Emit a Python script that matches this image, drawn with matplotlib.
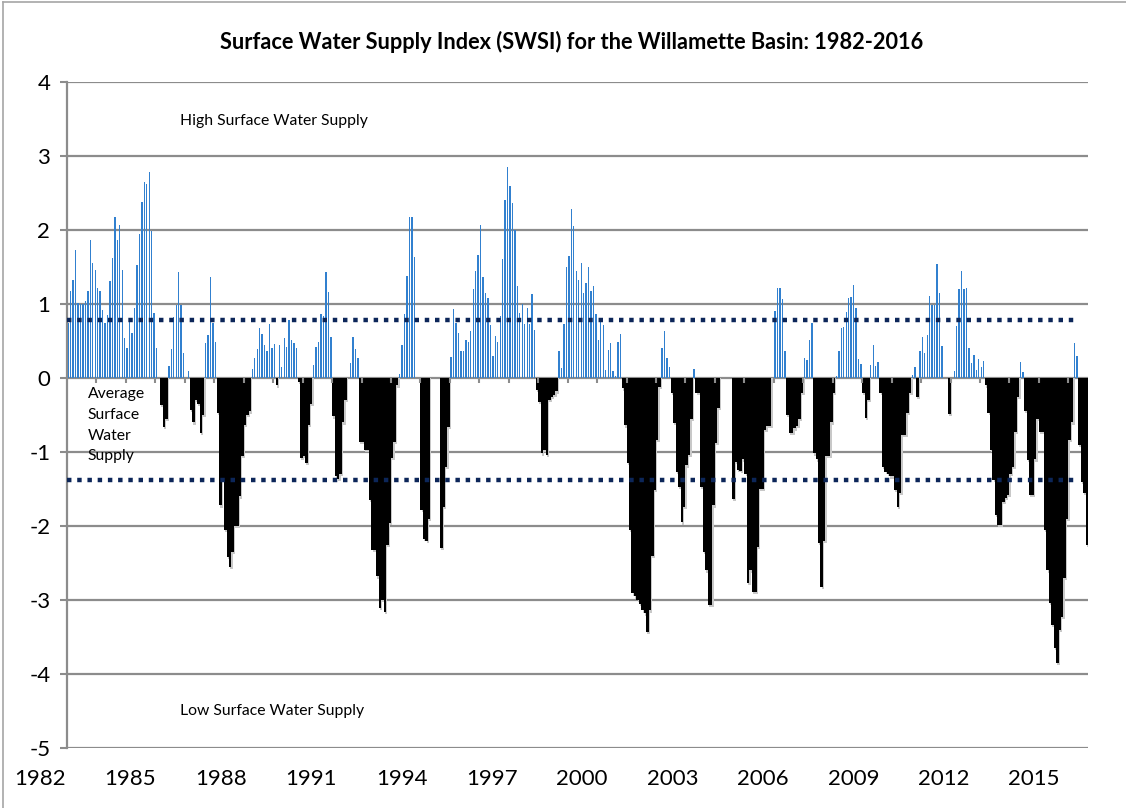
import matplotlib.pyplot as plt
import numpy as np

# monthly SWSI values, Jan 1982 .. mid 2016
swsi_1982_1987 = [
    0.74, 1.18, 1.32, 1.73, 1.01, 1.00, 1.00, 1.04, 1.18, 1.86, 1.55, 1.46,
    1.22, 1.17, 0.92, 0.74, 0.85, 1.31, 1.62, 2.18, 1.86, 2.07, 1.46, 0.54,
    0.41, 0.81, 0.61, 0.95, 1.53, 1.95, 2.38, 2.65, 2.62, 2.78, 1.99, 0.88,
    0.40, 0.00, -0.36, -0.66, -0.55, 0.16, 0.39, 0.83, 0.98, 1.43, 0.98, 0.34,
    0.00, 0.10, -0.43, -0.60, -0.30, -0.35, -0.74, -0.50, 0.47, 0.58, 1.36, 0.75,
    0.48, -0.47, -1.72, -1.38, -2.05, -2.42, -2.55, -2.35, -2.00, -2.00, -1.60, -1.05,
]
swsi_1988_1993 = [
    -0.63, -0.50, -0.45, 0.12, 0.27, 0.39, 0.67, 0.60, 0.44, 0.37, 0.73, 0.41,
    0.46, -0.10, 0.44, 0.15, 0.54, 0.42, 0.78, 0.51, 0.47, 0.41, -0.05, -1.08,
    -1.05, -1.15, -0.63, -0.35, 0.17, 0.42, 0.48, 0.86, 0.84, 1.43, 1.16, 0.56,
    -0.52, -1.33, -1.36, -1.30, -0.60, -0.30, 0.00, 0.20, 0.55, 0.39, 0.27, -0.86,
    -0.86, -0.97, -0.97, -1.65, -2.32, -2.32, -2.68, -3.11, -3.00, -3.16, -2.26, -1.96,
    -1.08, -0.86, -0.10, 0.06, 0.44, 0.86, 1.38, 2.17, 2.17, 1.64, 0.00, 0.00,
]
swsi_1994_1999 = [
    -1.78, -2.17, -2.20, -1.90, 0.00, 0.00, 0.00, 0.00, -2.30, -1.74, -1.20, -0.66,
    0.29, 0.93, 0.75, 0.61, 0.36, 0.37, 0.51, 0.49, 0.64, 1.20, 1.45, 1.66,
    2.07, 1.37, 1.15, 1.08, 0.71, 0.30, 0.57, 0.49, 0.84, 1.61, 2.40, 2.85,
    2.60, 2.36, 2.00, 1.25, 0.88, 1.00, 0.73, 0.95, 0.73, 1.14, 0.65, -0.16,
    -0.32, -1.02, -0.97, -1.04, -0.30, -0.25, -0.23, -0.18, 0.37, 0.14, 0.73, 1.50,
    1.65, 2.28, 2.05, 1.45, 1.32, 1.55, 1.15, 1.29, 1.50, 1.17, 1.24, 0.87,
]
swsi_2000_2005 = [
    0.51, 0.77, 0.71, 0.11, 0.38, 0.47, 0.09, 0.03, 0.48, 0.59, -0.14, -0.64,
    -1.15, -2.05, -2.91, -2.95, -3.00, -3.05, -3.14, -3.18, -3.43, -3.14, -2.40, -1.51,
    -0.84, -0.12, 0.41, 0.63, 0.27, 0.15, -0.20, -0.61, -1.27, -1.47, -1.95, -1.74,
    -1.18, -1.04, -0.55, 0.12, -0.20, -0.20, -1.47, -2.35, -2.60, -3.07, -3.07, -1.72,
    -0.88, -0.40, 0.00, 0.00, 0.00, 0.00, 0.00, -1.63, -1.13, -1.24, -1.25, -1.10,
    -1.30, -2.77, -2.60, -2.89, -2.89, -2.28, -1.50, -1.50, -0.70, -0.65, -0.65, 0.00,
]
swsi_2006_2011 = [
    0.90, 1.22, 1.22, 1.07, 0.36, -0.50, -0.74, -0.74, -0.68, -0.65, -0.55, -0.20,
    0.27, 0.24, 0.51, 0.75, -1.02, -1.10, -2.23, -2.82, -2.20, -1.05, -1.05, -0.60,
    -0.20, 0.03, 0.36, 0.67, 0.69, 0.89, 1.08, 1.10, 1.26, 0.94, 0.26, 0.19,
    -0.20, -0.54, -0.30, 0.17, 0.44, 0.16, 0.22, -0.20, -1.20, -1.27, -1.30, -1.33,
    -1.33, -1.51, -1.74, -1.55, -0.77, -0.77, -0.47, -0.20, 0.04, 0.15, -0.25, 0.36,
    0.56, 0.34, 0.58, 1.11, 0.99, 0.98, 1.54, 1.15, 0.43, 0.00, 0.00, -0.48,
]
swsi_2012_2016 = [
    0.00, 0.09, 0.70, 1.20, 1.44, 1.20, 1.21, 0.40, 0.20, 0.31, 0.11, 0.26,
    0.15, 0.23, -0.10, -0.47, -0.97, -1.38, -1.85, -1.99, -1.99, -1.67, -1.62, -1.58,
    -1.30, -1.20, -0.73, -0.25, 0.21, 0.08, -0.44, -1.11, -1.58, -1.58, -1.10, -0.55,
    -0.73, -0.73, -2.05, -2.60, -3.04, -3.34, -3.65, -3.85, -3.40, -3.23, -2.70, -1.90,
    -0.84, -0.60, 0.47, 0.30, -0.90, -1.40, -1.55, -2.25,
]

year_labels = ['1982', '1985', '1988', '1991', '1994', '1997',
               '2000', '2003', '2006', '2009', '2012', '2015']
high_line = 0.78
low_line = -1.38

swsi = np.array(swsi_1982_1987 + swsi_1988_1993 + swsi_1994_1999 +
                swsi_2000_2005 + swsi_2006_2011 + swsi_2012_2016)
n = len(swsi)
x = np.arange(n)
pos = swsi > 0
neg = swsi < 0

plt.rcParams['font.family'] = ['Lato', 'DejaVu Sans']

fig = plt.figure(figsize=(11.26, 8.08), dpi=100)
ax = fig.add_axes([67/1126, 1-748/808, (1088-67)/1126, (748-82)/808])

# horizontal grid
for v in range(-5, 5):
    ax.axhline(v, color='#8c8c8c', lw=1.6, zorder=1)

# soft shadow behind the black bars
ax.bar(x[neg] + 0.5, swsi[neg] - 0.03, width=1.0, color='#c8c8c8', lw=0, zorder=2)
ax.bar(x[neg], swsi[neg], width=1.0, color='black', lw=0, zorder=3)
ax.bar(x[pos], swsi[pos], width=0.55, color='#3180cf', lw=0, zorder=3)

# yearly tick marks on the zero line
ax.vlines(np.arange(12, n, 12) - 0.5, -0.07, 0, color='#8c8c8c', lw=1.5, zorder=4)

ax.axhline(high_line, xmin=0, xmax=0.99, color='#0c2659', lw=3.2,
           ls=(0, (1.0, 1.3)), zorder=5)
ax.axhline(low_line, xmin=0, xmax=0.99, color='#0c2659', lw=3.2,
           ls=(0, (1.0, 1.3)), zorder=5)

ax.set_xlim(-0.5, n - 0.5)
ax.set_ylim(-5, 4)
ax.set_yticks(range(-5, 5))
ax.set_yticklabels([str(v) for v in range(-5, 5)], fontsize=16)
ax.set_xticks([])
ax.tick_params(axis='y', length=5, width=1.5, color='#8c8c8c', pad=7)
for s in ['top', 'right', 'bottom']:
    ax.spines[s].set_visible(False)
ax.spines['left'].set_color('#8c8c8c')
ax.spines['left'].set_linewidth(1.6)

# year labels every three years, sitting left of the year ticks like the original
label_x = np.linspace(-11.5, 393.5, len(year_labels))
for lx, lab in zip(label_x, year_labels):
    ax.text(lx, -0.047, lab, transform=ax.get_xaxis_transform(), fontsize=16,
            ha='center', va='center', clip_on=False)

ax.text(45.5, 3.47, 'High Surface Water Supply', fontsize=11.3, va='center')
ax.text(45.5, -4.5, 'Low Surface Water Supply', fontsize=11.3, va='center')
ax.text(8, -0.64, 'Average\nSurface\nWater\nSupply', fontsize=11.3, va='center',
        linespacing=1.6)

fig.text(0.508, 1-42/808, 'Surface Water Supply Index (SWSI) for the Willamette Basin: 1982-2016',
         fontsize=15.7, fontweight='bold', ha='center', va='center')

# chart area border
fig.add_artist(plt.Line2D([0.003, 0.003], [0, 0.997], color='#a6a6a6', lw=1.2))
fig.add_artist(plt.Line2D([0.003, 1], [0.997, 0.997], color='#a6a6a6', lw=1.2))

fig.savefig('out.png', dpi=100)
